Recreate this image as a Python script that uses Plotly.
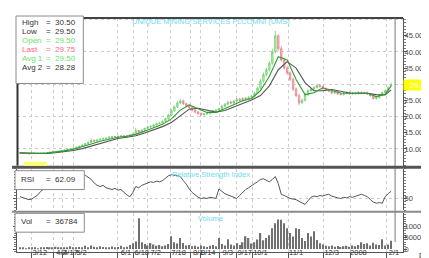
import plotly.graph_objects as go

# ---------------- data ----------------
bar_index = list(range(126))

open_ = [8.8, 8.7, 8.5, 8.6, 8.5, 8.7, 8.6, 8.7, 8.6, 8.8,
         8.9, 9.0, 9.1, 9.2, 9.3, 9.5, 9.7, 9.9, 10.0, 10.2,
         10.5, 10.8, 11.2, 11.6, 12.0, 12.7, 12.4, 12.8, 13.0, 13.2,
         13.3, 13.5, 13.8, 13.7, 13.9, 14.1, 13.8, 14.1, 14.3, 14.6,
         15.7, 15.2, 15.8, 16.3, 16.8, 17.0, 17.4, 17.9, 18.0, 18.5,
         19.3, 20.5, 21.8, 23.0, 24.2, 24.9, 24.0, 23.4, 22.8, 22.0,
         21.4, 21.0, 20.6, 20.8, 21.0, 21.3, 21.8, 22.0, 22.4, 23.2,
         23.8, 24.5, 24.2, 24.8, 25.4, 25.0, 25.7, 25.4, 26.0, 26.3,
         27.2, 28.8, 31.0, 33.0, 34.5, 36.5, 40.0, 45.0, 41.0, 37.5,
         35.0, 33.5, 31.5, 28.5, 26.5, 24.3, 25.0, 26.8, 28.0, 28.5,
         29.0, 29.6, 29.3, 28.6, 28.2, 27.9, 27.3, 27.6, 27.0, 26.8,
         27.2, 27.4, 27.0, 27.3, 27.1, 27.5, 27.2, 27.4, 27.0, 26.5,
         25.6, 25.9, 26.6, 27.4, 28.0, 29.5]

close = [8.7, 8.6, 8.6, 8.5, 8.6, 8.6, 8.7, 8.6, 8.8, 8.9,
         9.0, 9.1, 9.2, 9.3, 9.5, 9.7, 9.9, 10.0, 10.2, 10.5,
         10.8, 11.2, 11.6, 12.0, 12.6, 12.4, 12.8, 13.0, 13.2, 13.3,
         13.6, 13.8, 13.7, 13.9, 14.0, 13.8, 14.1, 14.3, 14.6, 15.6,
         15.2, 15.8, 16.3, 16.8, 17.0, 17.4, 17.8, 18.0, 18.5, 19.3,
         20.5, 21.8, 23.0, 24.2, 24.8, 24.0, 23.4, 22.8, 22.0, 21.4,
         21.0, 20.6, 20.8, 21.0, 21.3, 21.8, 22.0, 22.4, 23.2, 23.8,
         24.4, 24.2, 24.8, 25.3, 25.0, 25.6, 25.4, 26.0, 26.3, 27.2,
         28.8, 31.0, 33.0, 34.5, 36.5, 40.0, 45.0, 41.0, 37.5, 35.0,
         33.5, 31.5, 28.5, 26.5, 24.3, 25.0, 26.8, 28.0, 28.5, 29.0,
         29.6, 29.3, 28.6, 28.2, 27.9, 27.3, 27.6, 27.0, 26.8, 27.2,
         27.4, 27.0, 27.3, 27.1, 27.5, 27.2, 27.4, 27.0, 26.5, 25.6,
         25.9, 26.6, 27.4, 28.0, 28.9, 29.75]

high = [9.0, 8.8, 8.7, 8.7, 8.7, 8.8, 8.8, 8.8, 8.9, 9.0,
        9.1, 9.2, 9.3, 9.4, 9.6, 9.8, 10.0, 10.2, 10.4, 10.7,
        11.0, 11.4, 11.8, 12.3, 13.2, 12.9, 13.0, 13.2, 13.5, 13.5,
        13.9, 14.0, 14.0, 14.1, 14.3, 14.3, 14.3, 14.5, 14.9, 16.5,
        15.9, 16.1, 16.6, 17.1, 17.3, 17.7, 18.1, 18.3, 18.8, 19.6,
        20.9, 22.3, 23.5, 24.8, 25.5, 25.2, 24.3, 23.7, 23.1, 22.3,
        21.7, 21.3, 21.1, 21.3, 21.6, 22.1, 22.3, 22.7, 23.6, 24.2,
        24.9, 24.9, 25.1, 25.7, 25.8, 26.0, 26.0, 26.3, 26.7, 27.6,
        29.3, 31.6, 33.6, 35.2, 37.2, 41.0, 46.5, 45.5, 41.8, 38.2,
        35.7, 34.0, 32.0, 29.0, 27.0, 25.6, 27.3, 28.5, 28.9, 29.4,
        30.1, 30.0, 29.7, 29.0, 28.6, 28.3, 28.0, 28.0, 27.4, 27.6,
        27.8, 27.8, 27.6, 27.6, 27.9, 27.8, 27.7, 27.7, 27.3, 26.8,
        26.3, 27.0, 27.8, 28.4, 29.3, 30.5]

low = [8.5, 8.4, 8.4, 8.3, 8.4, 8.4, 8.5, 8.4, 8.5, 8.6,
       8.7, 8.8, 8.9, 9.0, 9.1, 9.3, 9.5, 9.7, 9.8, 10.0,
       10.3, 10.6, 11.0, 11.4, 11.8, 12.1, 12.2, 12.6, 12.8, 13.0,
       13.1, 13.3, 13.4, 13.5, 13.7, 13.5, 13.6, 13.9, 14.1, 14.4,
       14.9, 15.0, 15.6, 16.1, 16.5, 16.8, 17.2, 17.6, 17.8, 18.3,
       19.0, 20.2, 21.5, 22.7, 23.8, 23.6, 23.0, 22.4, 21.6, 21.0,
       20.6, 20.2, 20.3, 20.5, 20.7, 21.0, 21.5, 21.7, 22.1, 22.9,
       23.5, 23.8, 23.9, 24.5, 24.6, 24.7, 25.0, 25.1, 25.8, 26.0,
       26.9, 28.4, 30.5, 32.4, 34.0, 36.0, 39.5, 40.3, 37.0, 34.6,
       33.0, 31.0, 28.0, 26.0, 23.5, 24.0, 24.7, 26.4, 27.6, 28.2,
       28.7, 29.0, 28.3, 27.9, 27.6, 27.0, 27.0, 26.7, 26.6, 26.5,
       26.9, 26.8, 26.8, 26.9, 26.8, 26.9, 27.0, 26.7, 26.2, 25.3,
       25.3, 25.6, 26.3, 27.1, 27.7, 29.5]

volume_k = [4, 6, 3, 5, 8, 4, 3, 7, 5, 9,
            4, 6, 10, 5, 4, 8, 6, 12, 5, 7,
            9, 6, 14, 8, 16, 10, 7, 12, 9, 6,
            8, 11, 7, 9, 14, 6, 10, 18, 25, 33,
            135, 30, 22, 15, 26, 20, 14, 18, 12, 16,
            22, 56, 30, 24, 48, 26, 15, 18, 12, 14,
            10, 16, 12, 9, 14, 18, 12, 48, 22, 15,
            43, 20, 16, 25, 18, 30, 56, 48, 24, 30,
            42, 70, 38, 48, 60, 91, 113, 130, 128, 113,
            91, 70, 55, 91, 88, 48, 35, 70, 55, 78,
            40, 25, 20, 14, 12, 15, 10, 13, 9, 12,
            14, 10, 16, 12, 18, 30, 22, 25, 16, 28,
            20, 18, 43, 15, 20, 36.784]

rsi = [53, 51, 49, 48, 49, 52, 56, 62, 66, 70,
       72, 75, 77, 80, 82, 84, 86, 87, 88, 89,
       90, 90, 89, 86, 82, 76, 72, 70, 72, 68,
       66, 65, 67, 64, 65, 60, 56, 53, 60, 70,
       68, 72, 74, 76, 78, 77, 79, 78, 80, 84,
       88, 90, 89, 88, 87, 80, 74, 66, 60, 56,
       52, 50, 51, 50, 52, 51, 50, 66, 62, 58,
       56, 54, 51, 50, 55, 60, 65, 68, 72, 75,
       78, 82, 83, 80, 78, 82, 87, 75, 57, 55,
       52, 50, 49, 48, 45, 43, 40, 46, 52, 54,
       53, 55, 54, 56, 57, 54, 52, 51, 50, 52,
       51, 53, 52, 54, 55, 57, 55, 53, 48, 44,
       42, 43, 42, 53, 58, 62.09]

avg_index = [0, 3, 6, 9, 12, 15, 18, 21, 24, 27, 30, 33, 36, 39, 42, 45, 48, 51, 54, 57,
             60, 63, 66, 69, 72, 75, 78, 81, 84, 87, 90, 93, 96, 99, 102, 105, 108, 111,
             114, 117, 120, 123, 125]
avg1 = [8.7, 8.6, 8.6, 8.7, 9.0, 9.4, 9.9, 10.6, 11.5, 12.4,
        13.1, 13.6, 13.9, 14.5, 15.5, 16.6, 17.6, 19.3, 22.0, 23.6,
        22.4, 21.3, 21.3, 22.5, 23.9, 24.9, 25.6, 28.0, 32.5, 38.5,
        37.5, 31.5, 26.8, 27.4, 28.9, 28.2, 27.3, 27.2, 27.2, 27.2,
        26.2, 26.9, 29.5]
avg2 = [8.8, 8.7, 8.6, 8.6, 8.8, 9.1, 9.5, 10.1, 10.9, 11.8,
        12.6, 13.2, 13.6, 14.1, 14.9, 15.9, 16.9, 18.2, 20.3, 22.3,
        22.6, 21.9, 21.4, 21.9, 23.0, 24.2, 25.1, 26.5, 29.5, 34.5,
        37.0, 35.0, 30.5, 28.0, 28.0, 28.4, 27.8, 27.3, 27.2, 27.2,
        26.8, 26.7, 28.28]

tick_index = [4, 11.3, 14.3, 18, 33, 38.3, 43, 50.7, 57.3, 60.7, 67.3, 73, 78.3,
              90.3, 102.3, 111.3, 123.3]
tick_labels = ["3/12", "4/2", "4/17", "5/2", "6/1", "6/18", "7/2", "7/18", "8/1",
               "8/14", "9/3", "9/17", "10/1", "11/1", "12/3", "2008", "2/1"]

price_ticks = [10, 15, 20, 25, 35, 40, 45]
price_grid = [10, 20, 30, 40, 50]
rsi_ticks = [50]
vol_ticks = [0, 50000, 100000]

title_text = "UNIQUE MINING SERVICES FLCOMNI (UMS)"

volume = [v * 1000 for v in volume_k]

# ---------------- geometry helpers ----------------
FONT = "Liberation Sans, Arial, sans-serif"
W, H = 429, 258
ML, MR, MT, MB = 5, 34, 10, 12
PW = W - ML - MR
PH = H - MT - MB


def px(x):
    return (x - ML) / PW


def py(y):
    return (H - MB - y) / PH


GRID = "#cdcdcd"
CYAN = "#6fdcef"

fig = go.Figure()

fig.add_trace(go.Candlestick(
    x=bar_index, open=open_, high=high, low=low, close=close,
    xaxis="x2", yaxis="y", whiskerwidth=0,
    increasing=dict(line=dict(color="#6ccf6c", width=0.8), fillcolor="#c6f4be"),
    decreasing=dict(line=dict(color="#e8808a", width=0.8), fillcolor="#f8c6cc"),
    hoverinfo="skip", showlegend=False))
fig.add_trace(go.Scatter(x=avg_index, y=avg2, mode="lines", xaxis="x2", yaxis="y",
                         line=dict(color="#555555", width=1.1), hoverinfo="skip"))
fig.add_trace(go.Scatter(x=avg_index, y=avg1, mode="lines", xaxis="x2", yaxis="y",
                         line=dict(color="#2f9a2f", width=1.1), hoverinfo="skip"))
fig.add_trace(go.Scatter(x=[], y=[], xaxis="x2", yaxis="y4", hoverinfo="skip"))
fig.add_trace(go.Scatter(x=bar_index, y=rsi, mode="lines", xaxis="x3", yaxis="y2",
                         line=dict(color="#555555", width=1), hoverinfo="skip"))
fig.add_trace(go.Bar(x=bar_index, y=volume, width=0.45, xaxis="x", yaxis="y3",
                     marker=dict(color="#707070", line=dict(width=0)), hoverinfo="skip"))

xgrid = dict(range=[-1, 129], tickmode="array", tickvals=tick_index, showgrid=True,
             gridcolor=GRID, griddash="dot", gridwidth=1, zeroline=False)

tickfont = dict(size=7.5, color="#333333", family=FONT)
ytickfont = dict(size=7.5, color="#444444", family=FONT)

fig.update_layout(
    width=W, height=H,
    margin=dict(l=ML, r=MR, t=MT, b=MB, pad=0),
    paper_bgcolor="white", plot_bgcolor="white",
    showlegend=False, font=dict(family=FONT),
    xaxis=dict(domain=[0, 1], anchor="y3", ticktext=tick_labels, ticks="outside",
               ticklen=9, tickwidth=1, tickcolor="#555555", tickangle=0,
               ticklabelshift=8, ticklabelstandoff=-16, tickfont=tickfont,
               showline=True, linecolor="#555555", **xgrid),
    xaxis2=dict(domain=[0, 1], anchor="y", matches="x", showticklabels=False, ticks="",
                rangeslider=dict(visible=False), **xgrid),
    xaxis3=dict(domain=[0, 1], anchor="y2", matches="x", showticklabels=False, ticks="",
                **xgrid),
    yaxis=dict(domain=[py(159), 1], anchor="x2", side="right", range=[4.8, 50.5],
               tickmode="array", tickvals=price_ticks, tickformat=".2f",
               ticks="outside", ticklen=3, tickcolor="#555555", ticklabelstandoff=-4,
               minor=dict(tickmode="linear", tick0=0, dtick=1, ticks="outside",
                          ticklen=2, tickcolor="#777777", showgrid=False),
               showline=True, linecolor="#555555", showgrid=False, zeroline=False,
               tickfont=ytickfont),
    yaxis4=dict(overlaying="y", anchor="x2", side="right", range=[4.8, 50.5],
                tickmode="array", tickvals=price_grid, showticklabels=False, ticks="",
                showgrid=True, gridcolor=GRID, griddash="dot", showline=False,
                zeroline=False),
    yaxis2=dict(domain=[py(204), py(162)], anchor="x3", side="right", range=[30, 100],
                tickmode="array", tickvals=rsi_ticks, ticks="outside", ticklen=3,
                tickcolor="#555555", ticklabelstandoff=-4,
                minor=dict(tickmode="linear", tick0=0, dtick=5, ticks="outside",
                           ticklen=2, tickcolor="#777777", showgrid=False),
                showline=True, linecolor="#555555", mirror="ticks",
                showgrid=True, gridcolor=GRID, griddash="dot", zeroline=False,
                tickfont=ytickfont),
    yaxis3=dict(domain=[0, py(207)], anchor="x", side="right", range=[-13000, 156500],
                tickmode="array", tickvals=vol_ticks, ticktext=[str(v) for v in vol_ticks],
                ticks="outside", ticklen=3, tickcolor="#555555", ticklabelstandoff=-4,
                minor=dict(tickmode="linear", tick0=0, dtick=10000, ticks="outside",
                           ticklen=2, tickcolor="#777777", showgrid=False),
                showline=True, linecolor="#555555", mirror="ticks",
                showgrid=False, zeroline=False, tickfont=ytickfont),
)


def hline(y, x0, x1, color, width):
    return dict(type="line", xref="paper", yref="paper", x0=px(x0), x1=px(x1),
                y0=py(y), y1=py(y), line=dict(color=color, width=width), layer="above")


def vline(x, y0, y1, color, width):
    return dict(type="line", xref="paper", yref="paper", x0=px(x), x1=px(x),
                y0=py(y0), y1=py(y1), line=dict(color=color, width=width), layer="above")


def box(x0, y0, x1, y1, fill="white", line="#8c8c8c"):
    return dict(type="rect", xref="paper", yref="paper", x0=px(x0), x1=px(x1),
                y0=py(y1), y1=py(y0), fillcolor=fill,
                line=dict(color=line, width=1 if line else 0), layer="above")


shapes = [
    hline(10, 5, 395, "#444444", 2),
    vline(5.5, 10, 159, "#333333", 2),
    vline(387, 10, 236, "#777777", 1),
    hline(160.5, 0, 429, "#555555", 3),
    hline(205.5, 0, 429, "#8a8a8a", 2),
    box(12, 155, 35, 159, fill="#ffff66", line=None),
    box(4, 8, 72, 76),
    box(3, 164, 73, 183),
    box(3, 207, 73, 226),
]
fig.update_layout(shapes=shapes)


def ann(text, x, y, color, size=8, xanchor="left", **kw):
    return dict(text=text, x=px(x), y=py(y), xref="paper", yref="paper",
                showarrow=False, xanchor=xanchor, yanchor="middle",
                font=dict(size=size, color=color, family=FONT), **kw)


legend_labels = ["High", "Low", "Open", "Last", "Avg 1", "Avg 2"]
legend_values = [high[-1], low[-1], open_[-1], close[-1], avg1[-1], avg2[-1]]
legend_colors = ["#333333", "#333333", "#66e866", "#ff6680", "#66e866", "#333333"]
legend_rows = [15, 24, 33, 42, 51, 59.5]

annotations = [ann(title_text, 201, 14, CYAN, size=7.5, xanchor="center"),
               ann("Relative Strength Index", 201, 168, CYAN, size=7.5, xanchor="center"),
               ann("Volume", 201, 212, CYAN, size=7.5, xanchor="center")]
for lab, val, col, row in zip(legend_labels, legend_values, legend_colors, legend_rows):
    annotations.append(ann(lab, 8, row, col))
    annotations.append(ann(f"=  {val:.2f}", 32, row, col))

annotations.append(ann("RSI", 7, 173, "#333333"))
annotations.append(ann(f"=  {rsi[-1]:.2f}", 32, 173, "#333333"))
annotations.append(ann("Vol", 7, 215, "#333333"))
annotations.append(ann(f"=  {round(volume[-1])}", 32, 215, "#333333"))
annotations.append(dict(text=f"{close[-1]:.2f}", x=1.0, xref="paper", xanchor="left",
                        y=close[-1], yref="y", yanchor="middle", showarrow=False,
                        bgcolor="#ffff00", width=32, height=10, borderpad=0,
                        font=dict(size=8, color="white", family=FONT)))
annotations.append(ann("Day", 427, 249.5, "#333333", size=7.5, xanchor="right"))
fig.update_layout(annotations=annotations)

fig.write_html("out.html")
